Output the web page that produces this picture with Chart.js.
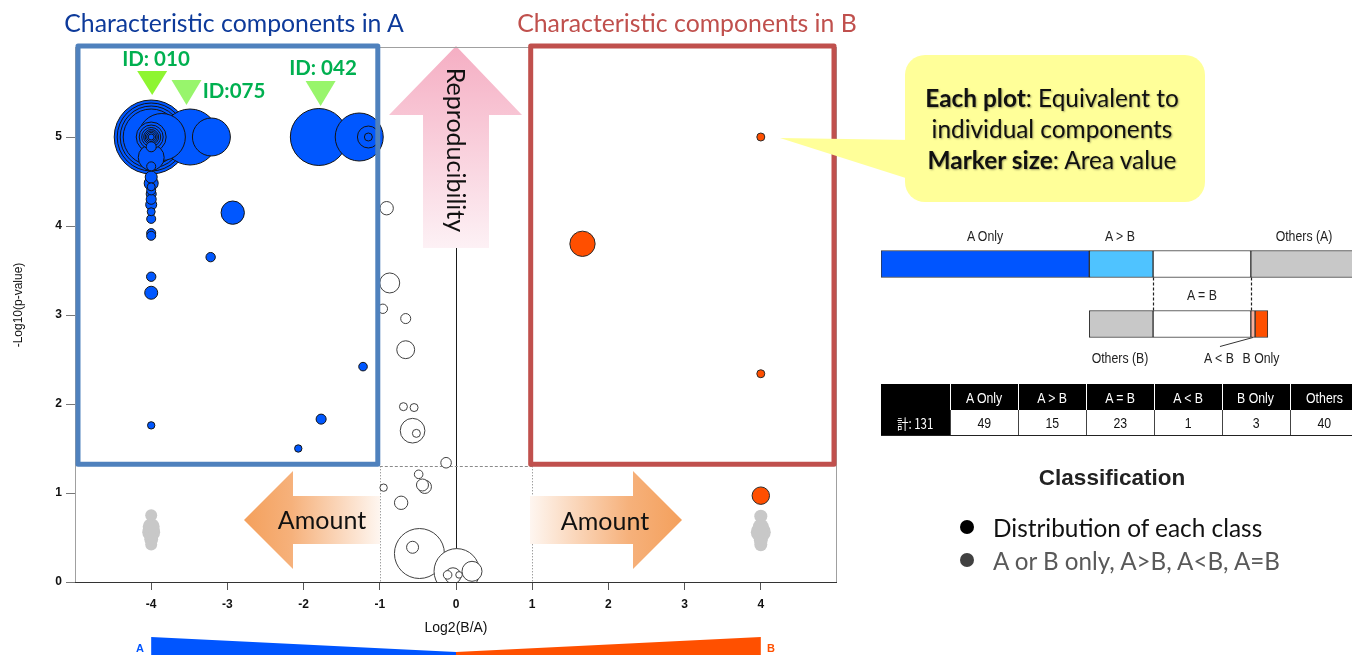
<!DOCTYPE html>
<html>
<head>
<meta charset="utf-8">
<script src="https://cdn.jsdelivr.net/npm/chart.js@4/dist/chart.umd.min.js"></script>
<style>
html,body{margin:0;padding:0;background:#fff;}
body{width:1352px;height:655px;overflow:hidden;position:relative;font-family:Lato,"Noto Sans",sans-serif;}
canvas{position:absolute;}
#main{left:0;top:0;z-index:1;}
#bars{left:881px;top:234px;z-index:1;}
#callout{position:absolute;left:0;top:0;z-index:2;}
.t{position:absolute;white-space:nowrap;line-height:1;z-index:3;}
.c{transform:translate(-50%,-50%);}
.l{transform:translate(0,-50%);}
.nar{font-family:"Liberation Sans","Noto Sans CJK JP",sans-serif;font-size:15px;color:#222;transform:translate(-50%,-50%) scaleX(0.82);}
.sq{display:inline-block;transform:scaleX(0.82);}
.bul{position:absolute;width:14px;height:14px;border-radius:50%;z-index:3;}
#tbl{position:absolute;left:881px;top:384px;width:477px;border-collapse:collapse;table-layout:fixed;z-index:3;}
#tbl td{padding:0;text-align:center;font-family:"Liberation Sans","Noto Sans CJK JP",sans-serif;font-size:15px;line-height:1;white-space:nowrap;}
#tbl tr.hd td{background:#000;color:#fff;height:26px;border-left:1px solid #fff;}
#tbl tr.hd td:first-child{border-left:none;}
#tbl tr.dt td{background:#fff;color:#111;height:25px;border-left:1px solid #444;border-bottom:1px solid #222;}
#tbl tr.dt td.k{background:#000;color:#fff;border-left:none;font-family:"Noto Sans CJK JP",sans-serif;font-size:14px;}
</style>
</head>
<body>
<canvas id="main" width="1352" height="655"></canvas>
<canvas id="bars" width="471" height="120"></canvas>

<svg id="callout" width="1352" height="655">
  <rect x="905" y="55" width="300" height="147" rx="20" ry="20" fill="#FFFF99"/>
  <polygon points="780,138 912,140 912,180" fill="#FFFF99"/>
</svg>

<div class="t c" style="left:234px;top:23px;font-size:24.8px;color:#0D3A9A">Characteristic components in A</div>
<div class="t c" style="left:687px;top:23px;font-size:24.8px;color:#C0504D">Characteristic components in B</div>

<div class="t c" style="left:156px;top:58px;font-size:20.5px;font-weight:bold;color:#00B050">ID: 010</div>
<div class="t c" style="left:234px;top:90px;font-size:20.5px;font-weight:bold;color:#00B050">ID:075</div>
<div class="t c" style="left:323px;top:67px;font-size:20.5px;font-weight:bold;color:#00B050">ID: 042</div>

<div class="t" style="left:456px;top:150px;font-size:25px;color:#111;transform:translate(-50%,-50%) rotate(90deg)">Reproducibility</div>
<div class="t c" style="left:322px;top:519px;font-size:25px;color:#111">Amount</div>
<div class="t c" style="left:605px;top:520px;font-size:25px;color:#111">Amount</div>

<div class="t c" style="left:140px;top:648px;font-size:11px;font-weight:bold;color:#0055FF;font-family:'Liberation Sans',sans-serif">A</div>
<div class="t c" style="left:771px;top:648px;font-size:11px;font-weight:bold;color:#FF5000;font-family:'Liberation Sans',sans-serif">B</div>

<div class="t c" style="left:1052px;top:128px;font-size:24.4px;line-height:31px;text-align:center;color:#111;text-shadow:1px 1.5px 2px rgba(0,0,0,0.35)"><b>Each plot</b>: Equivalent to<br>individual components<br><b>Marker size</b>: Area value</div>

<div class="t nar" style="left:985px;top:235px">A Only</div>
<div class="t nar" style="left:1120px;top:235px">A &gt; B</div>
<div class="t nar" style="left:1304px;top:235px">Others (A)</div>
<div class="t nar" style="left:1202px;top:294px">A = B</div>
<div class="t nar" style="left:1120px;top:357px">Others (B)</div>
<div class="t nar" style="left:1219px;top:357px">A &lt; B</div>
<div class="t nar" style="left:1261px;top:357px">B Only</div>

<table id="tbl"></table>

<div class="t c" style="left:1112px;top:478px;font-size:22.5px;font-weight:bold;color:#222;font-family:'Liberation Sans',sans-serif">Classification</div>
<div class="bul" style="left:960px;top:520px;background:#000"></div>
<div class="t l" style="left:993px;top:528px;font-size:24.4px;color:#111">Distribution of each class</div>
<div class="bul" style="left:960px;top:553px;background:#404040"></div>
<div class="t l" style="left:993px;top:561px;font-size:24.2px;color:#595959">A or B only, A&gt;B, A&lt;B, A=B</div>

<script>
// ---------- data ----------
const xTicks = [-4,-3,-2,-1,0,1,2,3,4];
const yTicks = [0,1,2,3,4,5];
const sigY = 1.3;          // -log10(0.05)
const fcCut = [-1, 1];     // log2 fold-change cut-offs

// Characteristic in A (A Only / A > B)
const aX = [-4,-4,-4,-4,-4,-4,-4,-4,-4,-4,-4,
            -4,-4,-4,-4,-4,-4,-4,-4,-4,-4,-4,-4,-4,-4,-4,-4,-4,
            -3.86,-3.49,-3.21,-2.93,-3.22,-1.80,-1.27,-1.15,-1.15,-1.22,-1.77,-2.07];
const aY = [5,5,5,5,5,5,5,5,5,5,5,
            4.89,4.77,4.67,4.55,4.48,4.44,4.40,4.36,4.30,4.24,4.16,4.08,3.92,3.89,3.43,3.25,1.76,
            5,5,5,4.15,3.65,5,5,5,5,2.42,1.83,1.50];
const aArea = [342,289,240,196,56,36,22.6,14,9,5.1,2.25,
               6.3,42,5.1,9,12.3,4,5.1,6.3,6.3,7.6,4,5.1,5.1,5.1,5.5,10.6,3.4,
               138,196,90,34,5.5,203,144,30,4,4.6,6.3,3.4];

// Characteristic in B (A < B / B Only)
const bX = [4, 1.66, 4, 4];
const bY = [5, 3.80, 2.34, 0.97];
const bArea = [4, 40, 4, 19];

// A = B
const eX = [-0.91,-0.87,-0.96,-0.66,-0.66,-0.69,-0.55,-0.57,-0.52,-0.13,-0.49,-0.41,-0.44,-0.95,-0.72,-0.48,-0.57,0.01,0.21,-0.04,-0.11,0.04];
const eY = [4.20,3.36,3.07,2.96,2.61,1.97,1.96,1.70,1.67,1.34,1.21,1.07,1.09,1.06,0.89,0.32,0.39,0.12,0.12,0.07,0.08,0.08];
const eArea = [11.2,25,5.5,6.3,20,4,4,38,4,7,4.6,11.2,9,3.4,11.2,156,9,129,25,16,4.6,2.7];

// Others
const oX = [-4,-4,-4,-4,-4,4,4,4,4,4];
const oY = [0.75,0.62,0.56,0.48,0.42,0.74,0.62,0.56,0.47,0.42];
const oArea = [9,18,20,12,9,10.6,16,25,12,10.6];

// highlighted IDs
const idX = [-4, -3.55, -1.79];

// classification table
const classLabels = ['A Only','A > B','A = B','A < B','B Only','Others'];
const classCounts = [49,15,23,1,3,40];
const totalLabel = '計: 131';

// classification diagram (two stacked rows)
const diagramNames = ['A Only','(offset)','A > B','Others (B)','A = B','Others (A)','A < B','B Only'];
const diagramRowA  = [49, null, 15, null, 23, 40, null, null];
const diagramRowB  = [null, 49, null, 15, 23, null, 1, 3];
const diagramColors = ['#0055FF','rgba(0,0,0,0)','#4FC3FF','#C8C8C8','#FFFFFF','#C8C8C8','#F8B09C','#FF5000'];

// ---------- helpers ----------
const rad = a => 2*Math.sqrt(a);
function pts(xs, ys, areas){
  return xs.map((v,i)=>({x:v, y:ys[i], r:rad(areas[i])})).sort((p,q)=>q.r-p.r);
}
function poly(ctx, p){
  ctx.beginPath(); ctx.moveTo(p[0][0],p[0][1]);
  for(let i=1;i<p.length;i++) ctx.lineTo(p[i][0],p[i][1]);
  ctx.closePath(); ctx.fill();
}
function seg(ctx,x1,y1,x2,y2){ctx.beginPath();ctx.moveTo(x1,y1);ctx.lineTo(x2,y2);ctx.stroke();}

// ---------- main chart decorations ----------
const deco = {
  id:'deco',
  beforeDatasetsDraw(chart){
    const {ctx, chartArea:ca, scales:{x,y}} = chart;
    ctx.save();
    const ySig = y.getPixelForValue(sigY);
    const px0 = Math.round(x.getPixelForValue(0))+0.5;
    ctx.lineWidth = 1;
    ctx.strokeStyle = '#1a1a1a';
    seg(ctx, px0, ca.top, px0, ca.bottom);
    ctx.strokeStyle = '#777'; ctx.setLineDash([1,2]);
    fcCut.forEach(v=>{const p=Math.round(x.getPixelForValue(v))+0.5; seg(ctx,p,ySig,p,ca.bottom);});
    ctx.strokeStyle = '#8a8a8a'; ctx.setLineDash([3,2]);
    const ys = Math.round(ySig)+0.5;
    seg(ctx, x.getPixelForValue(fcCut[0]), ys, x.getPixelForValue(fcCut[1]), ys);
    ctx.setLineDash([]);
    // Reproducibility arrow
    const cx = x.getPixelForValue(0);
    let g = ctx.createLinearGradient(0,46,0,248);
    g.addColorStop(0,'#F5AEC3'); g.addColorStop(1,'#FDF1F5');
    ctx.fillStyle = g;
    poly(ctx, [[cx,46],[cx+66,115],[cx+33,115],[cx+33,248],[cx-33,248],[cx-33,115],[cx-67,115]]);
    // Amount arrows
    g = ctx.createLinearGradient(244,0,380,0);
    g.addColorStop(0,'#F4A05C'); g.addColorStop(0.35,'#F6B17B'); g.addColorStop(1,'#FEF6F0');
    ctx.fillStyle = g;
    poly(ctx, [[244,520],[293,471],[293,496],[380,496],[380,544],[293,544],[293,569]]);
    g = ctx.createLinearGradient(530,0,682,0);
    g.addColorStop(0,'#FEF6F0'); g.addColorStop(0.65,'#F6B17B'); g.addColorStop(1,'#F4A05C');
    ctx.fillStyle = g;
    poly(ctx, [[530,496],[633,496],[633,471],[682,520],[633,569],[633,544],[530,544]]);
    ctx.restore();
  },
  afterDatasetsDraw(chart){
    const {ctx, chartArea:ca, scales:{x,y}} = chart;
    ctx.save();
    const ySig = y.getPixelForValue(sigY);
    // frame
    ctx.lineWidth = 1;
    ctx.strokeStyle = '#a0a0a0';
    seg(ctx, ca.left+0.5, ca.top, ca.left+0.5, ca.bottom);
    seg(ctx, ca.left, ca.top-0.5, ca.right, ca.top-0.5);
    seg(ctx, ca.right-0.5, ca.top, ca.right-0.5, ca.bottom);
    ctx.strokeStyle = '#333';
    seg(ctx, ca.left, ca.bottom+0.5, ca.right, ca.bottom+0.5);
    // boxes
    ctx.lineWidth = 5; ctx.lineJoin = 'round';
    const bt = ca.top-2, bb = ySig-2;
    ctx.strokeStyle = '#4F81BD';
    const l1 = ca.left+3, r1 = x.getPixelForValue(fcCut[0])-2;
    ctx.strokeRect(l1, bt, r1-l1, bb-bt);
    ctx.strokeStyle = '#C0504D';
    const l2 = x.getPixelForValue(fcCut[1])-1.5, r2 = ca.right-3;
    ctx.strokeRect(l2, bt, r2-l2, bb-bt);
    // ID triangles
    const tri = [[71,95,'#8EF531'],[80,105,'#98F56C'],[81,106,'#98F56C']];
    idX.forEach((v,i)=>{
      const px = x.getPixelForValue(v)+1;
      ctx.fillStyle = tri[i][2];
      poly(ctx, [[px-15,tri[i][0]],[px+15,tri[i][0]],[px,tri[i][1]]]);
    });
    // A/B wedges under axis
    const xa = x.getPixelForValue(-4), xm = x.getPixelForValue(0), xb = x.getPixelForValue(4);
    ctx.fillStyle = '#0055FF';
    poly(ctx, [[xa,637],[xm,652],[xm,655],[xa,655]]);
    ctx.fillStyle = '#FF5000';
    poly(ctx, [[xm,652],[xb,637],[xb,655],[xm,655]]);
    ctx.restore();
  }
};

new Chart(document.getElementById('main'), {
  type:'bubble',
  data:{datasets:[
    {label:'A Only / A > B', data:pts(aX,aY,aArea), backgroundColor:'#0057FF', borderColor:'#141414', borderWidth:1, clip:0},
    {label:'A < B / B Only', data:pts(bX,bY,bArea), backgroundColor:'#FF4F00', borderColor:'#2a2a2a', borderWidth:1, clip:0},
    {label:'A = B', data:pts(eX,eY,eArea), backgroundColor:'#FFFFFF', borderColor:'#404040', borderWidth:1, clip:0},
    {label:'Others', data:pts(oX,oY,oArea), backgroundColor:'#C8C8C8', borderWidth:0, clip:0}
  ]},
  options:{
    responsive:false, animation:false, events:[],
    layout:{padding:{left:0, top:48, right:515, bottom:0}},
    plugins:{legend:{display:false}, tooltip:{enabled:false}},
    scales:{
      x:{type:'linear', min:-5, max:5,
        afterBuildTicks:a=>{a.ticks = xTicks.map(v=>({value:v}));},
        afterFit:a=>{a.height = 73;},
        grid:{drawOnChartArea:false, drawTicks:true, tickLength:8, color:'#555'},
        border:{display:false},
        ticks:{padding:7, color:'#111', font:{family:'Liberation Sans', size:12, weight:'bold'}},
        title:{display:true, text:'Log2(B/A)', color:'#111', font:{family:'Liberation Sans', size:14}, padding:{top:0,bottom:18}}
      },
      y:{type:'linear', min:0, max:6,
        afterBuildTicks:a=>{a.ticks = yTicks.map(v=>({value:v}));},
        afterFit:a=>{a.width = 75;},
        grid:{drawOnChartArea:false, drawTicks:true, tickLength:9, color:'#777'},
        border:{display:false},
        ticks:{padding:4, color:'#111', font:{family:'Liberation Sans', size:12, weight:'bold'}},
        title:{display:true, text:'      -Log10(p-value)', color:'#111', font:{family:'Liberation Sans', size:12}, padding:{top:11,bottom:0}}
      }
    }
  },
  plugins:[deco]
});

// ---------- classification diagram ----------
const barDeco = {
  id:'barDeco',
  afterDatasetsDraw(chart){
    const {ctx} = chart;
    const eqIdx = diagramNames.indexOf('A = B');
    const top = chart.getDatasetMeta(eqIdx).data[0];
    const bot = chart.getDatasetMeta(eqIdx).data[1];
    const y1 = top.y + top.height/2, y2 = bot.y - bot.height/2;
    ctx.save();
    ctx.strokeStyle = '#222'; ctx.lineWidth = 1.2; ctx.setLineDash([3,2]);
    [top.base, top.x].forEach(px=>{ seg(ctx, Math.round(px)+0.5, y1, Math.round(px)+0.5, y2); });
    ctx.setLineDash([]);
    const lt = chart.getDatasetMeta(diagramNames.indexOf('A < B')).data[1];
    const lx = (lt.base + lt.x)/2, ly = lt.y + lt.height/2;
    ctx.strokeStyle = '#333'; ctx.lineWidth = 1;
    seg(ctx, lx, ly, lx-33, ly+9);
    ctx.restore();
  }
};
new Chart(document.getElementById('bars'), {
  type:'bar',
  data:{labels:['A','B'], datasets: diagramNames.map((n,i)=>({
    label:n, data:[diagramRowA[i], diagramRowB[i]],
    backgroundColor:diagramColors[i],
    borderColor: n==='(offset)' ? 'rgba(0,0,0,0)' : '#333',
    borderWidth: n==='(offset)' ? 0 : 1,
    borderSkipped:false, barThickness:27
  }))},
  options:{
    indexAxis:'y', responsive:false, animation:false, events:[],
    layout:{padding:0},
    plugins:{legend:{display:false}, tooltip:{enabled:false}},
    scales:{x:{stacked:true, min:0, max:110.8, display:false}, y:{stacked:true, display:false}}
  },
  plugins:[barDeco]
});

// ---------- table ----------
const esc = s => s.replace(/</g,'&lt;').replace(/>/g,'&gt;');
const sq = s => '<span class="sq">'+s+'</span>';
let h = '<colgroup><col style="width:69px">' + classLabels.map(()=>'<col style="width:68px">').join('') + '</colgroup>';
h += '<tr class="hd"><td></td>' + classLabels.map(l=>'<td>'+sq(esc(l))+'</td>').join('') + '</tr>';
h += '<tr class="dt"><td class="k">'+sq(totalLabel)+'</td>' + classCounts.map(v=>'<td>'+sq(v)+'</td>').join('') + '</tr>';
document.getElementById('tbl').innerHTML = h;
</script>
</body>
</html>
